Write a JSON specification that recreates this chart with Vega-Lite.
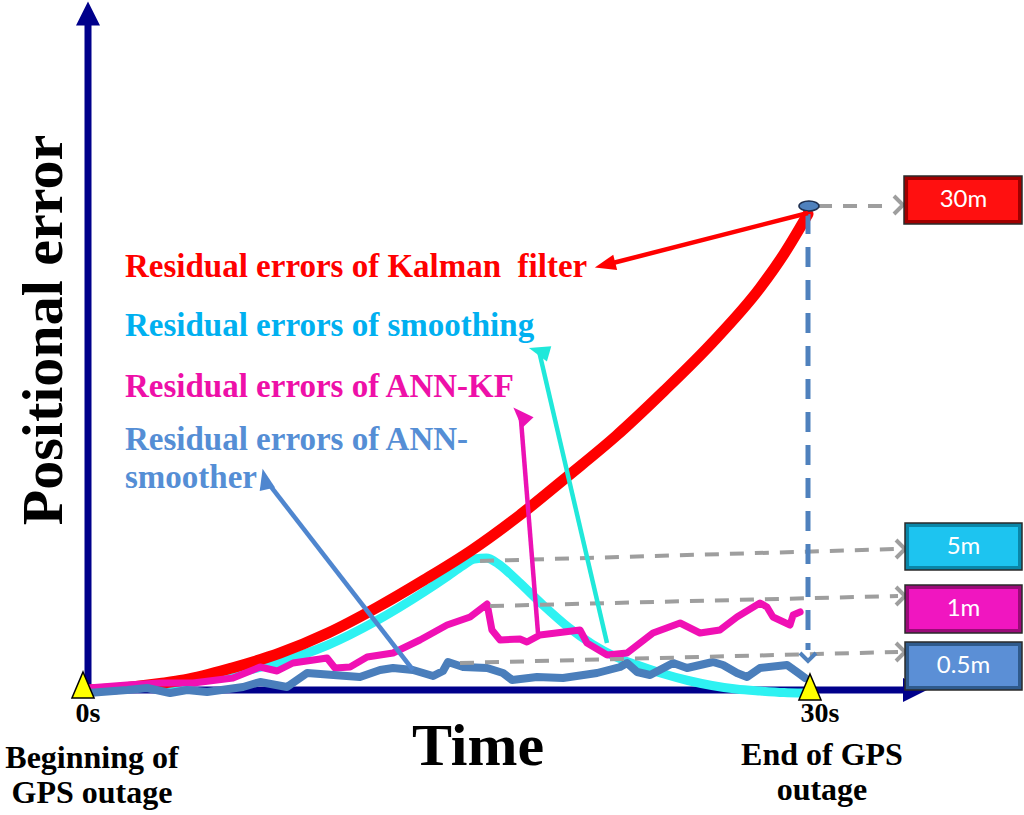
{
  "$schema": "https://vega.github.io/schema/vega-lite/v6.json",
  "width": 1024,
  "height": 815,
  "autosize": {"type": "fit", "contains": "padding"},
  "padding": 0,
  "background": "white",
  "config": {"view": {"stroke": null}},
  "resolve": {"scale": {"color": "independent", "fill": "independent", "angle": "independent", "shape": "independent"}},
  "datasets": {
    "axes": [{"t": 0, "v": -0.3, "t2": 0, "v2": 66.5}, {"t": -0.2, "v": 0, "t2": 34.04, "v2": 0}],
    "axisHeads": [{"t": 0, "v": 67.65, "dir": "up"}, {"t": 34.458, "v": 0, "dir": "right"}],
    "kf": [{"t":0,"v":0},{"t":1,"v":0.1},{"t":2,"v":0.35},{"t":3,"v":0.65},{"t":4,"v":1.0},{"t":6,"v":2.2},{"t":8,"v":3.7},{"t":10,"v":5.7},{"t":12,"v":8.2},{"t":14,"v":11.0},{"t":16,"v":14.0},{"t":18,"v":17.5},{"t":20,"v":21.4},{"t":22,"v":25.4},{"t":24,"v":29.9},{"t":26,"v":34.7},{"t":28,"v":40.2},{"t":29,"v":43.6},{"t":30,"v":47.6}],
    "sm": [{"t":0,"v":0},{"t":2,"v":0.2},{"t":4,"v":0.7},{"t":6,"v":1.6},{"t":8,"v":2.8},{"t":10,"v":4.5},{"t":12,"v":6.9},{"t":14,"v":9.8},{"t":15,"v":11.4},{"t":15.6,"v":12.4},{"t":16.1,"v":13.1},{"t":16.6,"v":13.2},{"t":17.1,"v":12.6},{"t":17.6,"v":11.6},{"t":18,"v":10.7},{"t":19,"v":8.4},{"t":20,"v":6.3},{"t":21,"v":4.6},{"t":22,"v":3.3},{"t":23,"v":2.4},{"t":24,"v":1.6},{"t":25,"v":0.95},{"t":26,"v":0.45},{"t":27,"v":0.1},{"t":28,"v":-0.1},{"t":29,"v":-0.25},{"t":29.8,"v":-0.3}],
    "annkf": [{"t":0,"v":0.2},{"t":1.63,"v":0.5},{"t":3.0,"v":0.7},{"t":4.38,"v":0.7},{"t":6.04,"v":1.2},{"t":7.17,"v":2.3},{"t":7.88,"v":1.9},{"t":8.54,"v":2.7},{"t":9.96,"v":3.2},{"t":10.29,"v":2.2},{"t":10.92,"v":2.3},{"t":11.63,"v":3.3},{"t":12.71,"v":3.7},{"t":13.83,"v":5.0},{"t":14.96,"v":6.5},{"t":15.92,"v":7.3},{"t":16.63,"v":8.6},{"t":16.83,"v":6.0},{"t":17.17,"v":5.0},{"t":18.0,"v":5.1},{"t":18.29,"v":4.8},{"t":18.83,"v":5.5},{"t":20.5,"v":6.0},{"t":20.79,"v":4.7},{"t":21.63,"v":3.5},{"t":22.46,"v":3.7},{"t":23.54,"v":5.7},{"t":24.67,"v":6.7},{"t":25.5,"v":5.7},{"t":26.33,"v":6.0},{"t":27.04,"v":7.3},{"t":28.0,"v":8.7},{"t":28.29,"v":8.3},{"t":28.54,"v":7.3},{"t":29.25,"v":6.5},{"t":29.38,"v":7.5},{"t":29.67,"v":7.8}],
    "anns": [{"t":0,"v":-0.3},{"t":1.63,"v":0},{"t":2.46,"v":0.2},{"t":3.42,"v":-0.3},{"t":4.13,"v":0},{"t":4.96,"v":-0.2},{"t":6.46,"v":0.3},{"t":7.17,"v":0.8},{"t":8.29,"v":0.3},{"t":8.83,"v":1.2},{"t":9.13,"v":1.7},{"t":11.33,"v":1.3},{"t":12.17,"v":2.0},{"t":12.71,"v":2.2},{"t":13.54,"v":2.0},{"t":14.38,"v":1.4},{"t":14.79,"v":1.9},{"t":15.0,"v":2.8},{"t":15.63,"v":2.3},{"t":16.63,"v":2.2},{"t":17.29,"v":1.7},{"t":17.67,"v":1.0},{"t":18.71,"v":1.3},{"t":19.79,"v":1.2},{"t":21.21,"v":1.7},{"t":22.17,"v":2.3},{"t":22.46,"v":2.7},{"t":22.88,"v":1.8},{"t":23.42,"v":1.5},{"t":24.38,"v":2.7},{"t":24.96,"v":2.2},{"t":26.04,"v":2.8},{"t":26.46,"v":2.5},{"t":27.04,"v":1.7},{"t":27.46,"v":1.3},{"t":28.0,"v":2.2},{"t":29.13,"v":2.5},{"t":29.54,"v":1.8},{"t":29.88,"v":1.2}],
    "gray": [{"t":30.417,"v":48.4,"t2":33.542,"v2":48.4},{"t":16.333,"v":12.9,"t2":33.75,"v2":14.1},{"t":16.75,"v":8.4,"t2":33.75,"v2":9.4},{"t":15.5,"v":2.7,"t2":33.75,"v2":3.8}],
    "chev": [{"t":33.958,"v":48.5},{"t":34.042,"v":14.1},{"t":34.042,"v":9.4},{"t":34.042,"v":3.8}],
    "vdash": [{"t":30,"v":47.6,"t2":30,"v2":4.0}],
    "vhead": [{"t":30,"v":2.9}],
    "ellipse": [{"t":30.04,"v":48.4}],
    "arrows": [{"t":30,"v":47.7,"t2":21.542,"v2":42.5,"c":"kf"},{"t":21.625,"v":4.7,"t2":18.792,"v2":33.9,"c":"sm"},{"t":18.75,"v":5.7,"t2":18.025,"v2":27.5,"c":"annkf"},{"t":13.542,"v":2.0,"t2":7.375,"v2":21.1,"c":"anns"}],
    "heads": [{"t":21.542,"v":42.5,"c":"kf"},{"t":18.792,"v":33.9,"c":"sm"},{"t":18.025,"v":27.5,"c":"annkf"},{"t":7.375,"v":21.1,"c":"anns"}],
    "tri": [{"t":-0.208,"v":0.5},{"t":30.083,"v":0.3}],
    "boxes": [{"t":34.0,"v":51.4,"t2":38.917,"v2":46.6,"c":"b30"},{"t":34.042,"v":16.7,"t2":38.917,"v2":12.0,"c":"b5"},{"t":34.042,"v":10.5,"t2":38.917,"v2":5.7,"c":"b1"},{"t":34.042,"v":4.8,"t2":38.917,"v2":0.0,"c":"b05"}],
    "inner": [{"t":34.17,"v":51.0,"t2":38.75,"v2":47.0,"c":"b30"},{"t":34.21,"v":16.3,"t2":38.75,"v2":12.4,"c":"b5"},{"t":34.21,"v":10.1,"t2":38.75,"v2":6.1,"c":"b1"},{"t":34.21,"v":4.4,"t2":38.75,"v2":0.4,"c":"b05"}],
    "boxText": [{"t":36.479,"v":49.0,"label":"30m"},{"t":36.479,"v":14.35,"label":"5m"},{"t":36.479,"v":8.1,"label":"1m"},{"t":36.479,"v":2.4,"label":"0.5m"}],
    "labels": [{"t":1.542,"v":41.3,"label":"Residual errors of Kalman\u00a0 filter","c":"kf"},{"t":1.542,"v":35.4,"label":"Residual errors of smoothing","c":"sm"},{"t":1.542,"v":29.3,"label":"Residual errors of ANN-KF","c":"annkf"},{"t":1.542,"v":24.0,"label":"Residual errors of ANN-","c":"anns"},{"t":1.542,"v":20.2,"label":"smoother","c":"anns"}],
    "ylab": [{"t":-1.083,"v":36.0,"label":"Positional error"}],
    "xlab": [{"t":16.25,"v":-7.5,"label":"Time"}],
    "ticks": [{"t":0,"v":-3.2,"label":"0s"},{"t":30.5,"v":-3.2,"label":"30s"}],
    "notes": [{"t":0.167,"v":-7.8,"label":"Beginning of"},{"t":0.167,"v":-11.3,"label":"GPS outage"},{"t":30.583,"v":-7.5,"label":"End of GPS"},{"t":30.583,"v":-11.0,"label":"outage"}]
  },
  "encoding": {
    "x": {"field": "t", "type": "quantitative", "scale": {"domain": [-3.6667, 39], "nice": false, "zero": false}, "axis": null},
    "y": {"field": "v", "type": "quantitative", "scale": {"domain": [-12.5, 69], "nice": false, "zero": false}, "axis": null}
  },
  "layer": [
    {"data": {"name": "axes"}, "mark": {"type": "rule", "color": "#00008B", "strokeWidth": 7}, "encoding": {"x2": {"field": "t2"}, "y2": {"field": "v2"}}},
    {"data": {"name": "axisHeads"}, "mark": {"type": "point", "filled": true, "color": "#00008B", "opacity": 1, "size": 576},
     "encoding": {"shape": {"field": "dir", "type": "nominal", "scale": {"domain": ["up", "right"], "range": ["M0,-1L1,1L-1,1Z", "M1,0L-1,-1L-1,1Z"]}, "legend": null}}},
    {"data": {"name": "sm"}, "mark": {"type": "line", "color": "#2EF2F2", "strokeWidth": 9, "interpolate": "monotone", "strokeCap": "round"}},
    {"data": {"name": "kf"}, "mark": {"type": "line", "color": "#FF0000", "strokeWidth": 11, "interpolate": "monotone", "strokeCap": "round"}},
    {"data": {"name": "annkf"}, "mark": {"type": "line", "color": "#F010B4", "strokeWidth": 7, "strokeJoin": "round", "strokeCap": "round"}},
    {"data": {"name": "anns"}, "mark": {"type": "line", "color": "#4A7EBB", "strokeWidth": 8, "strokeJoin": "round", "strokeCap": "round"}},
    {"data": {"name": "gray"}, "mark": {"type": "rule", "color": "#9E9E9E", "strokeWidth": 4, "strokeDash": [14, 11]}, "encoding": {"x2": {"field": "t2"}, "y2": {"field": "v2"}}},
    {"data": {"name": "chev"}, "mark": {"type": "point", "shape": "M-1,-1L0,0L-1,1", "filled": false, "stroke": "#9E9E9E", "strokeWidth": 4, "size": 324, "opacity": 1}},
    {"data": {"name": "vdash"}, "mark": {"type": "rule", "color": "#4F81BD", "strokeWidth": 5, "strokeDash": [20, 13]}, "encoding": {"x2": {"field": "t2"}, "y2": {"field": "v2"}}},
    {"data": {"name": "vhead"}, "mark": {"type": "point", "shape": "M-1,-1L0,0L1,-1", "filled": false, "stroke": "#4F81BD", "strokeWidth": 4, "size": 256, "opacity": 1}},
    {"data": {"name": "ellipse"}, "mark": {"type": "point", "shape": "M-1,0A1,0.5,0,1,0,1,0A1,0.5,0,1,0,-1,0Z", "filled": true, "fill": "#4F81BD", "stroke": "#1F3050", "strokeWidth": 1.5, "size": 400, "opacity": 1}},
    {"data": {"name": "arrows"}, "mark": {"type": "rule", "strokeWidth": 4.5},
     "encoding": {"x2": {"field": "t2"}, "y2": {"field": "v2"},
       "color": {"field": "c", "type": "nominal", "scale": {"domain": ["kf", "sm", "annkf", "anns"], "range": ["#FF0000", "#20E8DA", "#EC12B4", "#4F86CF"]}, "legend": null}}},
    {"data": {"name": "heads"}, "mark": {"type": "point", "shape": "M0,-1L0.75,1L-0.75,1Z", "filled": true, "size": 441, "opacity": 1},
     "encoding": {
       "color": {"field": "c", "type": "nominal", "scale": {"domain": ["kf", "sm", "annkf", "anns"], "range": ["#FF0000", "#20E8DA", "#EC12B4", "#4F86CF"]}, "legend": null},
       "angle": {"field": "c", "type": "nominal", "scale": {"domain": ["kf", "sm", "annkf", "anns"], "range": [255.6, 346.9, 355.4, 322.2]}, "legend": null}}},
    {"data": {"name": "tri"}, "mark": {"type": "point", "shape": "M0,-1L0.85,1L-0.85,1Z", "filled": true, "fill": "#FFFF00", "stroke": "#000000", "strokeWidth": 1.5, "size": 676, "opacity": 1}},
    {"data": {"name": "boxes"}, "mark": {"type": "rect", "stroke": "#2A2A2A", "strokeWidth": 1.5},
     "encoding": {"x2": {"field": "t2"}, "y2": {"field": "v2"},
       "fill": {"field": "c", "type": "nominal", "scale": {"domain": ["b30", "b5", "b1", "b05"], "range": ["#A00000", "#0A86A8", "#9A0A78", "#2F5A8C"]}, "legend": null}}},
    {"data": {"name": "inner"}, "mark": {"type": "rect"},
     "encoding": {"x2": {"field": "t2"}, "y2": {"field": "v2"},
       "fill": {"field": "c", "type": "nominal", "scale": {"domain": ["b30", "b5", "b1", "b05"], "range": ["#FF1010", "#1DC4F0", "#F016C0", "#5B8FD6"]}, "legend": null}}},
    {"data": {"name": "boxText"}, "mark": {"type": "text", "color": "white", "font": "Lato", "fontSize": 24, "align": "center", "baseline": "middle"},
     "encoding": {"text": {"field": "label"}}},
    {"data": {"name": "labels"}, "mark": {"type": "text", "font": "Liberation Serif", "fontWeight": "bold", "fontSize": 33, "align": "left", "baseline": "alphabetic"},
     "encoding": {"text": {"field": "label"},
       "color": {"field": "c", "type": "nominal", "scale": {"domain": ["kf", "sm", "annkf", "anns"], "range": ["#FF0000", "#00B0F0", "#EE10A8", "#558ED5"]}, "legend": null}}},
    {"data": {"name": "ylab"}, "mark": {"type": "text", "font": "Liberation Serif", "fontWeight": "bold", "fontSize": 58, "angle": 270, "align": "center", "baseline": "alphabetic", "color": "black"},
     "encoding": {"text": {"field": "label"}}},
    {"data": {"name": "xlab"}, "mark": {"type": "text", "font": "Liberation Serif", "fontWeight": "bold", "fontSize": 60, "align": "center", "baseline": "alphabetic", "color": "black"},
     "encoding": {"text": {"field": "label"}}},
    {"data": {"name": "ticks"}, "mark": {"type": "text", "font": "Liberation Serif", "fontWeight": "bold", "fontSize": 28, "align": "center", "baseline": "alphabetic", "color": "black"},
     "encoding": {"text": {"field": "label"}}},
    {"data": {"name": "notes"}, "mark": {"type": "text", "font": "Liberation Serif", "fontWeight": "bold", "fontSize": 32, "align": "center", "baseline": "alphabetic", "color": "black"},
     "encoding": {"text": {"field": "label"}}}
  ]
}
